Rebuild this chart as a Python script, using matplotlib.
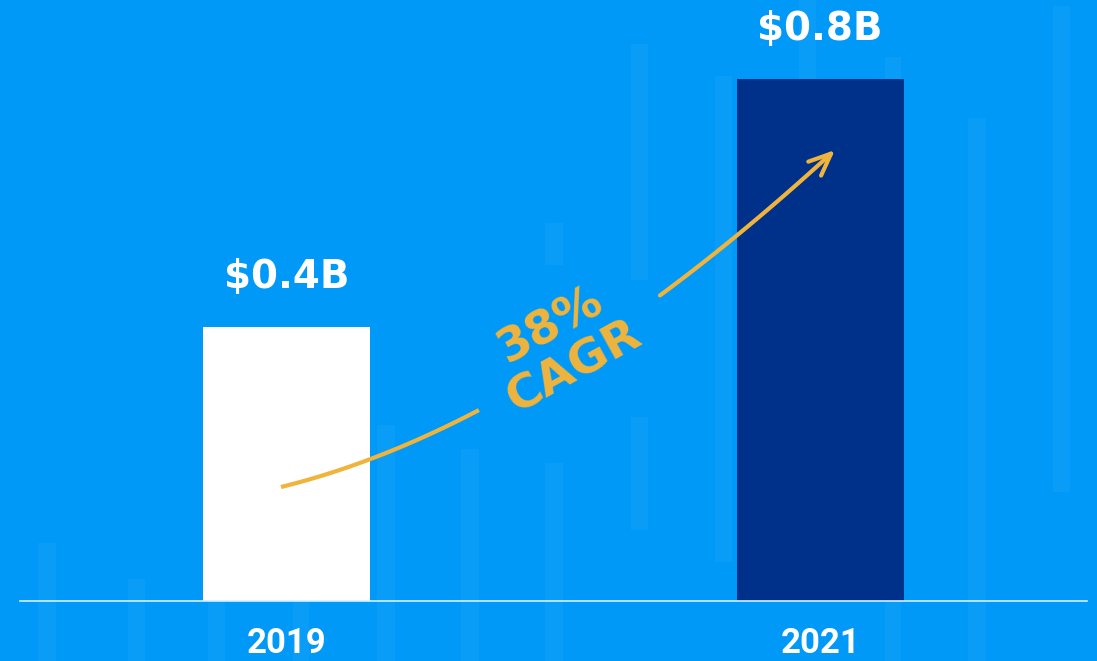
"""Revenue bar chart, 2019 vs 2021, with a CAGR arrow."""

import matplotlib

matplotlib.use("Agg")
import matplotlib.pyplot as plt
import numpy as np
from matplotlib.patches import FancyArrowPatch, Rectangle
from matplotlib.path import Path

# data
years = ["2019", "2021"]
revenue_bn = [0.42, 0.80]
value_labels = ["$0.4B", "$0.8B"]
bar_colors = ["#FFFFFF", "#00318A"]
cagr_label = "38%\nCAGR"

BG = "#0099F7"
FAINT = "#0A9DF8"
YELLOW = "#F0B43C"

W, H = 1097, 661
fig = plt.figure(figsize=(W / 100, H / 100), dpi=100, facecolor=BG)

# decorative faint columns in the background (pixel coords: left, right, top, bottom)
decor = [
    (38, 56, 543, 661), (128, 145, 579, 661), (208, 225, 520, 661),
    (293, 309, 520, 661), (377, 395, 425, 661), (461, 479, 449, 661),
    (545, 563, 463, 661), (545, 563, 223, 265), (631, 648, 44, 280),
    (631, 648, 417, 530), (715, 732, 76, 562), (799, 816, 0, 90),
    (885, 901, 57, 661), (968, 986, 118, 661), (1053, 1070, 6, 492),
]
bg = fig.add_axes([0, 0, 1, 1])
bg.set_xlim(0, W)
bg.set_ylim(H, 0)
bg.axis("off")
for x0, x1, y0, y1 in decor:
    bg.add_patch(Rectangle((x0, y0), x1 - x0, y1 - y0, color=FAINT, lw=0))

# main bars
ax = fig.add_axes([20 / W, 60 / H, 1067 / W, 601 / H])
ax.set_facecolor("none")
x = np.arange(len(years))
ax.bar(x, revenue_bn, width=0.313, color=bar_colors, zorder=2)
ax.set_xlim(-0.5, 1.5)
ax.set_ylim(0, 0.921)

for xi, val, lab in zip(x, revenue_bn, value_labels):
    ax.annotate(lab, (xi, val), xytext=(0, 36), textcoords="offset points",
                ha="center", va="center", color="white", fontsize=28,
                fontweight="bold", family="DejaVu Sans")

ax.set_xticks(x, years)
ax.tick_params(axis="x", length=0, pad=19, labelsize=25, labelcolor="white")
for t in ax.get_xticklabels():
    t.set_fontfamily("Roboto")
    t.set_fontweight("bold")
ax.set_yticks([])
for side in ["top", "left", "right"]:
    ax.spines[side].set_visible(False)
ax.spines["bottom"].set_color("#D6F0FF")
ax.spines["bottom"].set_linewidth(1.2)
ax.spines["bottom"].set_zorder(3)

# CAGR arrow and label (pixel coords overlay)
ov = fig.add_axes([0, 0, 1, 1])
ov.set_xlim(0, W)
ov.set_ylim(H, 0)
ov.axis("off")
ov.patch.set_visible(False)

p0, p1, p2 = np.array([281, 487]), np.array([537, 424]), np.array([835, 150])


def bez(t):
    t = np.asarray(t)[:, None]
    return (1 - t) ** 2 * p0 + 2 * t * (1 - t) * p1 + t ** 2 * p2


seg1 = bez(np.linspace(0, 0.375, 40))
ov.plot(seg1[:, 0], seg1[:, 1], color=YELLOW, lw=3, solid_capstyle="butt")
seg2 = bez(np.linspace(0.70, 1.0, 40))
arrow = FancyArrowPatch(path=Path(seg2), arrowstyle="->,head_length=0.4,head_width=0.17",
                        mutation_scale=40, color=YELLOW, lw=3, capstyle="round",
                        joinstyle="round")
ov.add_patch(arrow)

ov.text(563, 346, cagr_label, rotation=29, rotation_mode="anchor", ha="center",
        va="center", multialignment="center", linespacing=1.1, color=YELLOW,
        fontsize=34, fontweight="bold", family="DejaVu Sans")

fig.savefig("out.png", dpi=100, facecolor=BG)
